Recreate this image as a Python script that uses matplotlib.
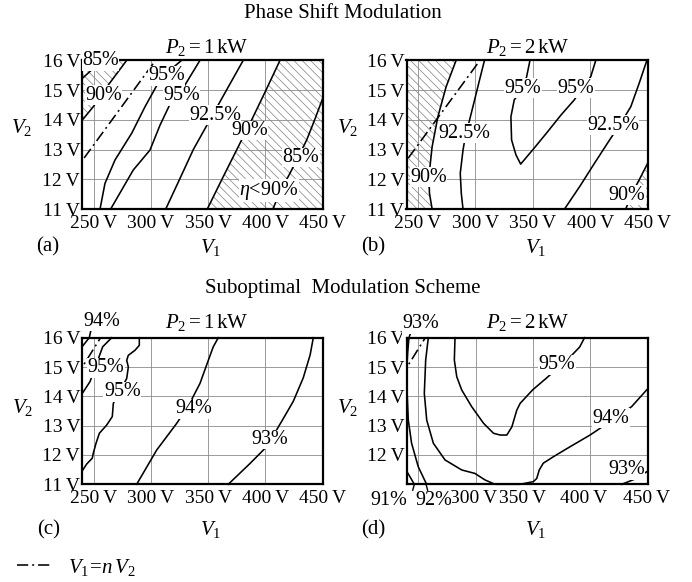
import matplotlib
matplotlib.use("Agg")
import matplotlib.pyplot as plt
from matplotlib.lines import Line2D

plt.rcParams.update({
    "font.family": ["Liberation Serif", "DejaVu Serif"],
    "mathtext.fontset": "custom",
    "mathtext.rm": "Liberation Serif",
    "mathtext.it": "Liberation Serif:italic",
    "hatch.linewidth": 0.55,
    "font.size": 14.5,
})

W, H = 692, 582
V1_LIM = (240, 450)
V2_LIM = (11, 16)
V1_TICKS = [250, 300, 350, 400, 450]
V2_TICKS = [11, 12, 13, 14, 15, 16]
N_PSM = 19   # turns ratio of the V1 = n V2 line, phase shift row
N_SUB = 16   # turns ratio, suboptimal row
TICK_FS = 14

# (a) phase shift modulation, P2 = 1 kW
A_LEVELS = [85, 90, 95, 95, 92.5, 90, 85]
A_V1 = [
    [240, 251.1, 256.5],
    [240, 249.6, 262.7, 278.8],
    [255.5, 259.8, 268.6, 283.2, 294.8, 305.3, 316.6, 326.8],
    [264.8, 284.5, 299.1, 307.9, 318.4, 329.7, 342.8],
    [312.9, 325, 337, 351.5, 366, 380.6],
    [349.2, 362, 375, 388, 400.5, 412.7],
    [406.5, 413, 421.4, 428, 436, 443, 450],
]
A_V2 = [
    [15.39, 15.78, 16],
    [13.99, 14.44, 15.17, 16],
    [11.0, 11.86, 12.65, 13.55, 14.44, 15.17, 15.67, 16],
    [11.0, 12.31, 12.98, 13.82, 14.67, 15.17, 16],
    [11.0, 12.0, 13.0, 14.0, 15.0, 16.0],
    [11.0, 12.0, 13.0, 14.0, 15.0, 16.0],
    [11.0, 11.6, 12.2, 12.7, 13.32, 14.0, 14.72],
]

# (b) phase shift modulation, P2 = 2 kW
B_LEVELS = [90, 92.5, 95, 92.5, 90]
B_V1 = [
    [283.2, 274.5, 267.3, 262.3, 259.5, 260, 262.3],
    [307.9, 303.6, 299.3, 294.9, 291.5, 289.2, 286.8, 287.7, 289.2],
    [347.5, 344.6, 341.6, 333.8, 330.9, 331.5, 335.3, 339.4,
     351, 362.9, 374.5, 386.1, 393, 400.4, 404.8],
    [377.6, 390.7, 403.7, 416.8, 426, 435.3, 442.6, 449.3],
    [430.9, 436, 442.6, 450],
]
B_V2 = [
    [16, 15.11, 14.10, 13.09, 12.09, 11.53, 11],
    [16, 15.34, 14.67, 13.99, 13.5, 12.98, 12.2, 11.53, 11],
    [16, 15.45, 15.06, 14.67, 14.1, 13.32, 12.82, 12.51,
     13.04, 13.6, 14.16, 14.67, 15.06, 15.45, 16],
    [11, 11.75, 12.54, 13.32, 13.85, 14.44, 15.23, 16],
    [11, 11.5, 11.98, 12.54],
]

# (c) suboptimal modulation, P2 = 1 kW
C_LEVELS = [94, 95, 95, 94, 93]
C_V1 = [
    [240, 246.1, 247.5],
    [240, 246.7, 257.8, 265.7],
    [289.8, 289.8, 286, 280.2, 278.8, 280.2, 278.8, 267.1, 266.2,
     261.3, 254.9, 252, 249.6, 248.7, 243.8, 240],
    [287.5, 305, 322.5, 333, 342.8, 350, 354.4, 358.8],
    [367.5, 386.5, 401, 414.2, 424.3, 433, 439, 441.8],
]
C_V2 = [
    [15.7, 16, 16.25],
    [14.1, 14.5, 15.69, 16],
    [16, 15.74, 15.57, 15.4, 15.23, 15.0, 14.61, 13.76, 13.31,
     13.02, 12.74, 12.4, 12.06, 11.89, 11.69, 11.46],
    [11, 12.17, 13.08, 13.7, 14.44, 15.22, 15.69, 16],
    [11, 11.71, 12.28, 13.15, 13.83, 14.63, 15.41, 16],
]

# (d) suboptimal modulation, P2 = 2 kW
D_LEVELS = [91, 92, 93, 94, 95, 93]
D_V1 = [
    [240, 246.4],
    [240, 241.1, 244, 249.8, 257.1],
    [240, 240.6, 241.7, 243.5],
    [258.6, 256.3, 255.1, 257.2, 263, 273.2, 287.7, 299.3, 308, 316.8,
     338.6, 350.2, 353.2, 355.4, 358.9, 367.7, 382.2, 399.7, 418, 436,
     449.1, 450],
    [281.9, 281.3, 283.4, 287.7, 296.4, 306.8, 315.5, 321.3, 327.1, 331.5,
     335.8, 338.7, 349.6, 361.3, 372.9, 382.5, 390.6, 394.9],
    [427.3, 440.3, 450],
]
D_V2 = [
    [11.43, 11],
    [14.22, 13.2, 12.4, 11.6, 11],
    [15.1, 15.5, 16, 16.2],
    [16, 15.24, 14.1, 13.19, 12.4, 11.83, 11.49, 11.37, 11.15, 11.0,
     11.0, 11.09, 11.2, 11.49, 11.72, 11.94, 12.28, 12.68, 13.16, 13.65,
     14.22, 14.25],
    [16, 15.24, 14.67, 14.22, 13.65, 13.08, 12.74, 12.68, 12.68, 12.96,
     13.53, 13.76, 14.22, 14.61, 15.01, 15.35, 15.68, 16],
    [11, 11.2, 11.45],
]
# V1 tick names under (d) sit where the 91 % / 92 % tags leave room
D_TICK_VALUES = [300, 350, 400, 450]
D_TICK_AT = [298.3, 340.6, 394.4, 449.0]

DASHDOT = (0, (7, 2.5, 1.2, 2.5))
HATCH = "\\\\\\\\"


def fx(px):
    return px / W


def fy(py):
    return 1 - py / H


def pct(level):
    return f"{level:g}%"


def volts(v):
    return f"{v}\u2009V"


def setup(ax, xlabels=True, ylabels=True):
    ax.set_xlim(*V1_LIM)
    ax.set_ylim(*V2_LIM)
    ax.set_xticks(V1_TICKS)
    ax.set_yticks(V2_TICKS)
    ax.set_xticklabels([volts(v) for v in V1_TICKS] if xlabels is True else xlabels)
    ax.set_yticklabels([volts(v) for v in V2_TICKS] if ylabels is True else ylabels)
    ax.tick_params(length=0, pad=4, labelsize=TICK_FS)
    ax.tick_params(axis="y", pad=1.5)
    ax.grid(color="#8a8a8a", lw=0.6)
    ax.set_axisbelow(True)
    for s in ax.spines.values():
        s.set_linewidth(1.6)


def contours(ax, v1s, v2s):
    for v1, v2 in zip(v1s, v2s):
        ax.plot(v1, v2, color="k", lw=1.15, clip_on=False, zorder=2)


def ratio_line(ax, n):
    v2 = [V2_LIM[0], V2_LIM[1]]
    ax.plot([n * v for v in v2], v2, color="k", lw=1.15, ls=DASHDOT, zorder=2)


def label(ax, text, x, y):
    ax.text(x, y, text, ha="center", va="center", clip_on=False, zorder=4,
            bbox=dict(facecolor="white", edgecolor="none", pad=0.3))


def hatch(ax, v1, v2):
    ax.fill(v1, v2, facecolor="none", edgecolor="#8c8c8c", hatch=HATCH,
            linewidth=0, zorder=1)


fig = plt.figure(figsize=(W / 100, H / 100), dpi=100)
ax_a = fig.add_axes([fx(82.3), fy(209), fx(240.4), (209 - 60.3) / H])
ax_b = fig.add_axes([fx(406.5), fy(209), fx(241.2), (209 - 60.3) / H])
ax_c = fig.add_axes([fx(82.3), fy(484.3), fx(240.4), (484.3 - 337.7) / H])
ax_d = fig.add_axes([fx(407), fy(484.3), fx(240.7), (484.3 - 337.7) / H])

# (a)
setup(ax_a)
hatch(ax_a, A_V1[1] + [240], A_V2[1] + [16])
hatch(ax_a, A_V1[5] + [450, 450], A_V2[5] + [16, 11])
contours(ax_a, A_V1, A_V2)
ratio_line(ax_a, N_PSM)
for i, x, y in [(0, 256.0, 15.98), (1, 258.5, 14.82), (2, 313.7, 15.48),
                (3, 326.8, 14.81), (4, 355.9, 14.16), (5, 386.0, 13.64),
                (6, 430.9, 12.73)]:
    label(ax_a, pct(A_LEVELS[i]), x, y)
label(ax_a, r"$\eta$<90%", 403.2, 11.62)

# (b)
setup(ax_b)
hatch(ax_b, B_V1[0] + [240, 240], B_V2[0] + [11, 16])
hatch(ax_b, B_V1[4] + [450], B_V2[4] + [11])
contours(ax_b, B_V1, B_V2)
ratio_line(ax_b, N_PSM)
for i, x, y in [(0, 259.2, 12.07), (1, 290.6, 13.55), (2, 341.6, 15.06),
                (2, 387.5, 15.06), (3, 419.8, 13.82), (4, 431.8, 11.47)]:
    label(ax_b, pct(B_LEVELS[i]), x, y)

# (c)
setup(ax_c)
contours(ax_c, C_V1, C_V2)
ratio_line(ax_c, N_SUB)
for i, x, y in [(0, 257.0, 16.55), (1, 260.5, 14.98), (2, 274.9, 14.16),
                (3, 337.2, 13.57), (4, 404.0, 12.53)]:
    label(ax_c, pct(C_LEVELS[i]), x, y)

# (d)
setup(ax_d, xlabels=[""] * len(V1_TICKS),
      ylabels=[""] + [volts(v) for v in V2_TICKS[1:]])
for v, at in zip(D_TICK_VALUES, D_TICK_AT):
    ax_d.annotate(volts(v), xy=(at, 0), xycoords=("data", "axes fraction"),
                  xytext=(0, -4), textcoords="offset points",
                  ha="center", va="top", fontsize=TICK_FS)
contours(ax_d, D_V1, D_V2)
ratio_line(ax_d, N_SUB)
for x0, y0, x1, y1 in [(246.4, 11.0, 245.0, 10.8), (256.6, 11.0, 258.0, 10.8)]:
    ax_d.plot([x0, x1], [y0, y1], color="k", lw=1.0, clip_on=False)
for i, x, y in [(0, 224.3, 10.45), (1, 263.0, 10.45), (2, 252.2, 16.47),
                (4, 370.9, 15.07), (3, 417.7, 13.25), (5, 431.4, 11.49)]:
    label(ax_d, pct(D_LEVELS[i]), x, y)

# headings and axis names
fig.text(fx(343), fy(13), "Phase Shift Modulation", ha="center", va="center", fontsize=15)
fig.text(fx(343), fy(288), "Suboptimal  Modulation Scheme", ha="center", va="center",
         fontsize=15)
for px, py, p in [(207, 47, 1), (527.7, 47, 2), (207, 322.7, 1), (527.7, 322.7, 2)]:
    fig.text(fx(px), fy(py), rf"$P_2=${p}$\,$kW", ha="center", va="center", fontsize=15)
for px, py in [(22, 128), (348, 128), (23, 407), (348, 407)]:
    fig.text(fx(px), fy(py), r"$V_2$", ha="center", va="center", fontsize=15)
for px, py in [(211, 247), (536, 247), (211, 530), (536, 530)]:
    fig.text(fx(px), fy(py), r"$V_1$", ha="center", va="center", fontsize=15)
for px, py, tag in [(48, 247, "(a)"), (373, 247, "(b)"), (49, 530, "(c)"),
                    (373, 530, "(d)")]:
    fig.text(fx(px), fy(py), tag, ha="center", va="center", fontsize=15)

fig.legend(handles=[Line2D([], [], color="k", lw=1.15, ls=DASHDOT)],
           labels=[r"$V_1\!=\!n\,V_2$"], loc="center left",
           bbox_to_anchor=(fx(17), fy(567)), frameon=False, handlelength=1.7,
           handletextpad=0.75, borderpad=0, borderaxespad=0, fontsize=15)

fig.savefig("out.png", dpi=100)
